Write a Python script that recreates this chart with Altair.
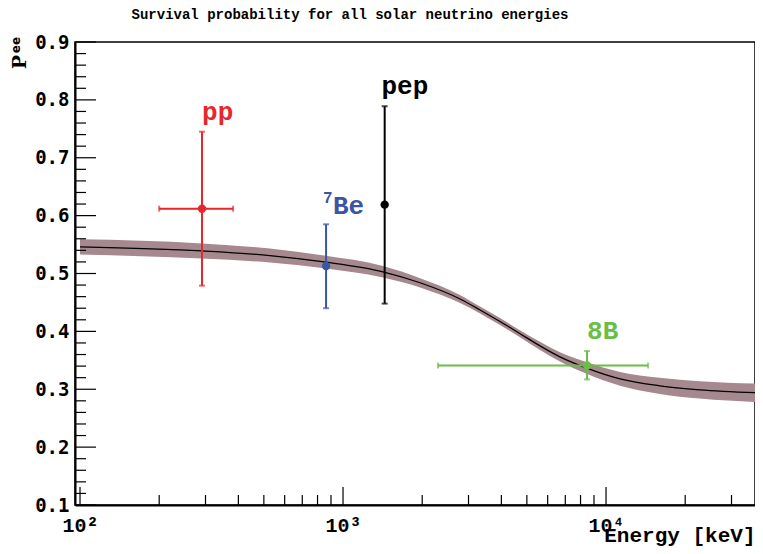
import altair as alt
import pandas as pd

# ---- data ----
curve_E = [100, 291, 527, 847, 1419, 1963, 2786, 3319, 3953, 4710, 5610, 6680, 8400, 11300, 16000, 22700, 36850]
curve_P = [0.546, 0.539, 0.531, 0.520, 0.503, 0.484, 0.456, 0.437, 0.417, 0.396, 0.375, 0.356, 0.337, 0.318, 0.306, 0.299, 0.294]
curve_W = [0.013, 0.013, 0.012, 0.011, 0.010, 0.008, 0.007, 0.006, 0.006, 0.006, 0.007, 0.008, 0.010, 0.012, 0.014, 0.015, 0.016]

src_name = ["pp", "7Be", "pep", "8B"]
src_E = [291, 862, 1440, 8470]
src_Elo = [200, 862, 1440, 2296]
src_Ehi = [382, 862, 1440, 14450]
src_P = [0.612, 0.513, 0.619, 0.341]
src_Plo = [0.479, 0.440, 0.448, 0.317]
src_Phi = [0.745, 0.585, 0.789, 0.366]
src_color = ["#e8262b", "#3b55a4", "#000000", "#6abe45"]

lab_text = ["pp", "Be", "pep", "8B"]
lab_E = [291, 916, 1400, 8470]
lab_P = [0.766, 0.602, 0.810, 0.386]
sup_text = ["7"]
sup_E = [839]
sup_P = [0.622]

y_major = [0.1, 0.2, 0.3, 0.4, 0.5, 0.6, 0.7, 0.8, 0.9]
y_minor = [round(0.1 + 0.02 * i, 2) for i in range(41) if i % 5 != 0]
x_major = [100, 1000, 10000]
x_minor = [200, 300, 400, 500, 600, 700, 800, 900,
           2000, 3000, 4000, 5000, 6000, 7000, 8000, 9000, 20000, 30000]

# ---- tables ----
curve = pd.DataFrame({"E": curve_E, "P": curve_P,
                      "lo": [p - w for p, w in zip(curve_P, curve_W)],
                      "hi": [p + w for p, w in zip(curve_P, curve_W)]})
src = pd.DataFrame({"name": src_name, "E": src_E, "Elo": src_Elo, "Ehi": src_Ehi,
                    "P": src_P, "Plo": src_Plo, "Phi": src_Phi})
xcaps = pd.concat([
    pd.DataFrame({"name": src_name, "E": src_Elo, "P": src_P}),
    pd.DataFrame({"name": src_name, "E": src_Ehi, "P": src_P}),
])
xcaps = xcaps[xcaps["name"].isin(["pp", "8B"])]
ycaps = pd.concat([
    pd.DataFrame({"name": src_name, "E": src_E, "P": src_Plo}),
    pd.DataFrame({"name": src_name, "E": src_E, "P": src_Phi}),
])
labs = pd.DataFrame({"name": src_name, "text": lab_text, "E": lab_E, "P": lab_P})
sups = pd.DataFrame({"name": ["7Be"], "text": sup_text, "E": sup_E, "P": sup_P})

xs = alt.Scale(type="log", domain=[95.7, 36850])
ys = alt.Scale(domain=[0.1, 0.9])
cs = alt.Scale(domain=src_name, range=src_color)
col = alt.Color("name:N", scale=cs, legend=None)

mono = "Liberation Mono"

xaxis = alt.Axis(values=x_major, ticks=False, grid=False, domainColor="black", domainWidth=2,
                 labelExpr="datum.value == 100 ? '10²' : datum.value == 1000 ? '10³' : '10⁴'",
                 labelFont=mono, labelFontWeight="bold", labelFontSize=20, labelColor="black",
                 labelPadding=10, labelFlush=False,
                 title="Energy [keV]", titleFont=mono, titleFontWeight="bold", titleFontSize=21,
                 titleColor="black", titleAnchor="end", titleAlign="right", titleX=680, titleY=36,
                 titleBaseline="alphabetic")
yaxis = alt.Axis(values=y_major, format=".1f", ticks=False, grid=False, domainColor="black",
                 domainWidth=2, labelFont="DejaVu Sans Mono", labelFontWeight="bold",
                 labelFontSize=19, labelColor="black", labelPadding=6, title=None)

band = alt.Chart(curve).mark_area(color="#a6898e", opacity=1, interpolate="monotone").encode(
    x=alt.X("E:Q", scale=xs, axis=xaxis),
    y=alt.Y("lo:Q", scale=ys, axis=yaxis),
    y2="hi:Q")
line = alt.Chart(curve).mark_line(color="black", strokeWidth=1.3, interpolate="monotone").encode(
    x=alt.X("E:Q", scale=xs), y=alt.Y("P:Q", scale=ys))

ymaj = alt.Chart(pd.DataFrame({"v": y_major})).mark_rule(color="black", strokeWidth=1.2).encode(
    y=alt.Y("v:Q", scale=ys), x=alt.value(0), x2=alt.value(21))
ymin = alt.Chart(pd.DataFrame({"v": y_minor})).mark_rule(color="black", strokeWidth=1.2).encode(
    y=alt.Y("v:Q", scale=ys), x=alt.value(0), x2=alt.value(11))
xmaj = alt.Chart(pd.DataFrame({"v": x_major})).mark_rule(color="black", strokeWidth=1.2).encode(
    x=alt.X("v:Q", scale=xs), y=alt.value(463), y2=alt.value(445))
xmin = alt.Chart(pd.DataFrame({"v": x_minor})).mark_rule(color="black", strokeWidth=1.2).encode(
    x=alt.X("v:Q", scale=xs), y=alt.value(463), y2=alt.value(453))

hbar = alt.Chart(src[src["name"].isin(["pp", "8B"])]).mark_rule(strokeWidth=2).encode(
    x=alt.X("Elo:Q", scale=xs), x2="Ehi:Q", y=alt.Y("P:Q", scale=ys), color=col)
vbar = alt.Chart(src).mark_rule(strokeWidth=2).encode(
    x=alt.X("E:Q", scale=xs), y=alt.Y("Plo:Q", scale=ys), y2="Phi:Q", color=col)
xcap = alt.Chart(xcaps).mark_tick(orient="vertical", size=6, thickness=2).encode(
    x=alt.X("E:Q", scale=xs), y=alt.Y("P:Q", scale=ys), color=col)
ycap = alt.Chart(ycaps).mark_tick(orient="horizontal", size=6, thickness=2).encode(
    x=alt.X("E:Q", scale=xs), y=alt.Y("P:Q", scale=ys), color=col)
pts = alt.Chart(src).mark_circle(size=70, opacity=1).encode(
    x=alt.X("E:Q", scale=xs), y=alt.Y("P:Q", scale=ys), color=col)

labels = alt.Chart(labs).mark_text(font=mono, fontWeight="bold", fontSize=26, align="left",
                                    baseline="alphabetic").encode(
    x=alt.X("E:Q", scale=xs), y=alt.Y("P:Q", scale=ys), text="text:N", color=col)
suplab = alt.Chart(sups).mark_text(font=mono, fontWeight="bold", fontSize=16, align="left",
                                    baseline="alphabetic").encode(
    x=alt.X("E:Q", scale=xs), y=alt.Y("P:Q", scale=ys), text="text:N", color=col)

ptitle = alt.Chart(pd.DataFrame({"t": ["P"]})).mark_text(
    font="DejaVu Serif", fontWeight="bold", fontSize=19, angle=270, color="black").encode(
    text="t:N", x=alt.value(-55), y=alt.value(20))
eetitle = alt.Chart(pd.DataFrame({"t": ["ee"]})).mark_text(
    font="DejaVu Sans", fontWeight="bold", fontSize=12, angle=270, color="black").encode(
    text="t:N", x=alt.value(-59), y=alt.value(3))

chart = alt.layer(band, line, ymaj, ymin, xmaj, xmin, hbar, vbar, xcap, ycap, pts,
                  labels, suplab, ptitle, eetitle).properties(
    width=680, height=463,
    autosize=alt.AutoSizeParams(type="none"),
    padding={"left": 67, "top": 34, "right": 0, "bottom": 41},
    title=alt.TitleParams("Survival probability for all solar neutrino energies",
                          font=mono, fontWeight="bold", fontSize=14, color="black",
                          anchor="middle", dx=-65, offset=11),
).configure_view(stroke="black", strokeWidth=1.5)

chart.save("out.html", embed_options={"renderer": "svg", "actions": False})
